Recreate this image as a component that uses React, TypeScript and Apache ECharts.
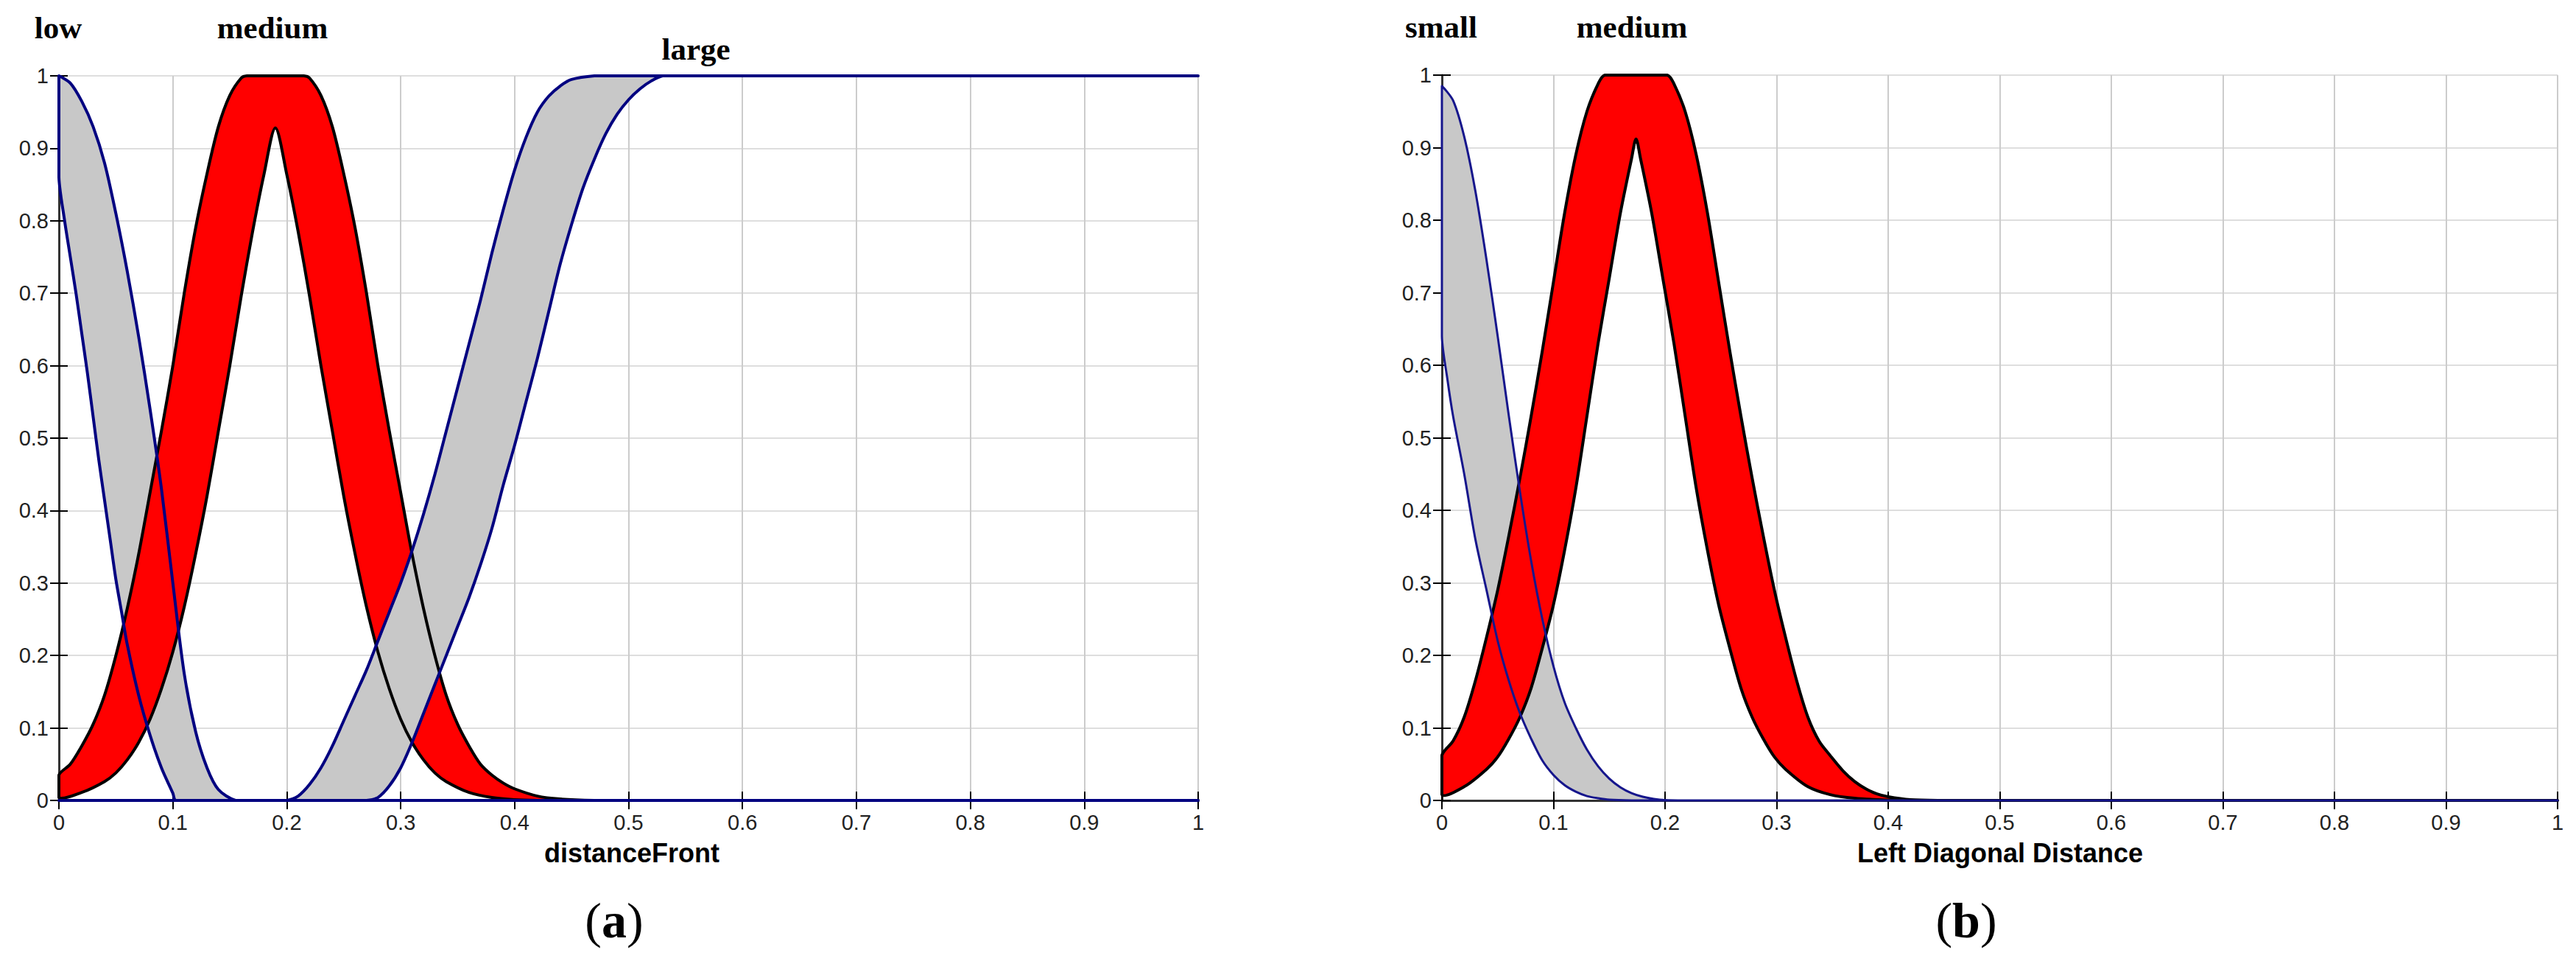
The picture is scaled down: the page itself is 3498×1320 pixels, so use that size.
import React, { useEffect, useRef } from 'react';
import * as echarts from 'echarts';

type Pt = [number, number];

// ---------- tick labels & texts ----------
const tickLabels = ['0', '0.1', '0.2', '0.3', '0.4', '0.5', '0.6', '0.7', '0.8', '0.9', '1'];
const setNamesA = ['low', 'medium', 'large'];
const setNamesB = ['small', 'medium'];
const axisTitles = ['distanceFront', 'Left Diagonal Distance'];
const panelTags = ['a', 'b'];

// ---------- panel (a): distanceFront ----------
const lowUpperA: Pt[] = [[0, 1], [0.01, 0.99], [0.02, 0.965], [0.03, 0.93], [0.04, 0.88], [0.05, 0.81], [0.06, 0.73], [0.07, 0.64], [0.08, 0.54], [0.09, 0.43], [0.1, 0.3], [0.11, 0.175], [0.12, 0.095], [0.13, 0.045], [0.14, 0.015], [0.155, 0], [0.17, 0], [1, 0]];
const lowLowerA: Pt[] = [[0, 0.86], [0.005, 0.8], [0.01, 0.75], [0.015, 0.7], [0.02, 0.645], [0.025, 0.59], [0.03, 0.53], [0.035, 0.47], [0.04, 0.415], [0.045, 0.36], [0.05, 0.305], [0.055, 0.26], [0.06, 0.215], [0.07, 0.145], [0.08, 0.09], [0.09, 0.045], [0.1, 0.01], [0.1025, 0], [0.12, 0], [1, 0]];
const medUpperA: Pt[] = [[0, 0.035], [0.01, 0.05], [0.02, 0.075], [0.03, 0.105], [0.04, 0.145], [0.05, 0.2], [0.06, 0.265], [0.07, 0.34], [0.08, 0.425], [0.09, 0.51], [0.1, 0.6], [0.11, 0.7], [0.12, 0.79], [0.13, 0.865], [0.14, 0.93], [0.15, 0.973], [0.16, 0.997], [0.165, 1], [0.19, 1], [0.215, 1], [0.22, 0.997], [0.23, 0.973], [0.24, 0.93], [0.25, 0.865], [0.26, 0.79], [0.27, 0.7], [0.28, 0.6], [0.29, 0.51], [0.3, 0.425], [0.31, 0.34], [0.32, 0.265], [0.33, 0.2], [0.34, 0.145], [0.35, 0.105], [0.36, 0.075], [0.37, 0.05], [0.38, 0.035], [0.39, 0.024], [0.4, 0.016], [0.42, 0.006], [0.44, 0.002], [0.47, 0], [0.5, 0], [1, 0]];
const medLowerA: Pt[] = [[0, 0.004], [0.02, 0.011], [0.04, 0.026], [0.05, 0.038], [0.06, 0.056], [0.07, 0.08], [0.08, 0.112], [0.09, 0.154], [0.1, 0.205], [0.11, 0.267], [0.12, 0.34], [0.13, 0.42], [0.14, 0.51], [0.15, 0.6], [0.16, 0.696], [0.17, 0.785], [0.18, 0.864], [0.19, 0.928], [0.2, 0.864], [0.21, 0.785], [0.22, 0.696], [0.23, 0.6], [0.24, 0.51], [0.25, 0.42], [0.26, 0.34], [0.27, 0.267], [0.28, 0.205], [0.29, 0.154], [0.3, 0.112], [0.31, 0.08], [0.32, 0.056], [0.33, 0.038], [0.34, 0.026], [0.36, 0.011], [0.38, 0.004], [0.4, 0.001], [0.42, 0], [0.45, 0], [1, 0]];
const largeUpperA: Pt[] = [[0, 0], [0.19, 0], [0.2, 0], [0.21, 0.006], [0.22, 0.022], [0.23, 0.045], [0.24, 0.075], [0.25, 0.11], [0.26, 0.145], [0.27, 0.18], [0.28, 0.22], [0.29, 0.26], [0.3, 0.3], [0.31, 0.345], [0.32, 0.395], [0.33, 0.45], [0.34, 0.51], [0.35, 0.57], [0.36, 0.63], [0.37, 0.69], [0.38, 0.755], [0.39, 0.815], [0.4, 0.87], [0.41, 0.915], [0.42, 0.95], [0.43, 0.972], [0.44, 0.986], [0.45, 0.995], [0.47, 1], [0.49, 1], [1, 1]];
const largeLowerA: Pt[] = [[0, 0], [0.26, 0], [0.27, 0], [0.28, 0.004], [0.29, 0.02], [0.3, 0.045], [0.31, 0.08], [0.32, 0.12], [0.33, 0.16], [0.34, 0.2], [0.35, 0.24], [0.36, 0.28], [0.37, 0.325], [0.38, 0.375], [0.39, 0.435], [0.4, 0.49], [0.41, 0.55], [0.42, 0.61], [0.43, 0.675], [0.44, 0.74], [0.45, 0.795], [0.46, 0.845], [0.47, 0.885], [0.48, 0.92], [0.49, 0.947], [0.5, 0.967], [0.51, 0.982], [0.52, 0.993], [0.53, 1], [0.55, 1], [1, 1]];

// ---------- panel (b): Left Diagonal Distance ----------
const smallUpperB: Pt[] = [[0, 0.985], [0.01, 0.965], [0.02, 0.915], [0.03, 0.84], [0.04, 0.745], [0.05, 0.64], [0.06, 0.53], [0.07, 0.425], [0.08, 0.33], [0.09, 0.25], [0.1, 0.185], [0.11, 0.135], [0.12, 0.1], [0.13, 0.07], [0.14, 0.047], [0.15, 0.03], [0.16, 0.018], [0.17, 0.01], [0.18, 0.005], [0.19, 0.002], [0.2, 0.0005], [0.22, 0], [0.24, 0], [1, 0]];
const smallLowerB: Pt[] = [[0, 0.64], [0.005, 0.58], [0.01, 0.53], [0.02, 0.45], [0.03, 0.36], [0.04, 0.29], [0.05, 0.22], [0.06, 0.165], [0.07, 0.12], [0.08, 0.085], [0.09, 0.055], [0.1, 0.035], [0.11, 0.021], [0.12, 0.012], [0.13, 0.006], [0.14, 0.003], [0.15, 0.001], [0.17, 0], [0.19, 0], [1, 0]];
const medUpperB: Pt[] = [[0, 0.062], [0.01, 0.082], [0.02, 0.115], [0.03, 0.165], [0.04, 0.225], [0.05, 0.29], [0.06, 0.365], [0.07, 0.445], [0.08, 0.53], [0.09, 0.62], [0.1, 0.715], [0.11, 0.81], [0.12, 0.89], [0.13, 0.95], [0.14, 0.988], [0.146, 1], [0.174, 1], [0.202, 1], [0.208, 0.988], [0.218, 0.95], [0.228, 0.89], [0.238, 0.81], [0.248, 0.715], [0.258, 0.62], [0.268, 0.53], [0.278, 0.445], [0.288, 0.365], [0.298, 0.29], [0.308, 0.225], [0.318, 0.165], [0.328, 0.115], [0.338, 0.082], [0.348, 0.062], [0.36, 0.04], [0.37, 0.026], [0.38, 0.016], [0.39, 0.009], [0.4, 0.005], [0.42, 0.001], [0.45, 0], [0.48, 0], [1, 0]];
const medLowerB: Pt[] = [[0, 0.008], [0.02, 0.019], [0.04, 0.043], [0.05, 0.06], [0.06, 0.085], [0.07, 0.115], [0.08, 0.155], [0.09, 0.21], [0.1, 0.27], [0.11, 0.345], [0.12, 0.43], [0.13, 0.53], [0.14, 0.63], [0.15, 0.72], [0.16, 0.81], [0.17, 0.885], [0.174, 0.912], [0.178, 0.885], [0.188, 0.81], [0.198, 0.72], [0.208, 0.63], [0.218, 0.53], [0.228, 0.43], [0.238, 0.345], [0.248, 0.27], [0.258, 0.21], [0.268, 0.155], [0.278, 0.115], [0.288, 0.085], [0.298, 0.06], [0.308, 0.043], [0.328, 0.019], [0.348, 0.008], [0.37, 0.003], [0.4, 0.0005], [0.42, 0], [0.45, 0], [1, 0]];

interface Band {
  upper: Pt[];
  lower: Pt[];
  fill: string;
  stroke: string;
  width: number;
}

const GRAY = '#c8c8c8';
const RED = '#ff0000';
const NAVY = '#000080';

function bandSeries(kind: 'fill' | 'edge', axisIdx: number, bands: Band[]): any {
  return {
    type: 'custom',
    xAxisIndex: axisIdx,
    yAxisIndex: axisIdx,
    coordinateSystem: 'cartesian2d',
    data: [[0, 0]],
    encode: { x: 0, y: 1 },
    clip: false,
    silent: true,
    z: kind === 'fill' ? 2 : 3,
    renderItem: (_params: any, api: any) => ({
      type: 'group',
      children: bands.map((b) => {
        const pts = b.upper.concat(b.lower.slice().reverse()).map((p) => api.coord(p));
        return {
          type: 'polygon',
          shape: { points: pts, smooth: 0.3, smoothConstraint: [pts[0], pts[0]] },
          style:
            kind === 'fill'
              ? { fill: b.fill, stroke: 'none' }
              : { fill: 'none', stroke: b.stroke, lineWidth: b.width, lineJoin: 'round' },
        };
      }),
    }),
  };
}

const labelFont = { fontFamily: '"Liberation Sans", Arial, sans-serif', fontSize: 29, color: '#222' };

function axesFor(gridIndex: number) {
  const fmt = (v: number) => tickLabels[Math.round(v * 10)];
  const tick = { show: true, inside: true, length: 12, lineStyle: { color: '#000', width: 2 } };
  const xs = [
    {
      gridIndex, type: 'value', min: 0, max: 1, interval: 0.1, position: 'bottom',
      axisLine: { show: true, lineStyle: { color: '#000', width: 2 } },
      axisTick: tick,
      axisLabel: { ...labelFont, margin: 15, formatter: fmt },
      splitLine: { show: true, lineStyle: { color: '#cccccc', width: 2 } },
    },
    {
      gridIndex, type: 'value', min: 0, max: 1, interval: 0.1, position: 'top',
      axisLine: { show: true, lineStyle: { color: '#333', width: 3 } },
      axisTick: tick,
      axisLabel: { show: false },
      splitLine: { show: false },
    },
  ];
  const ys = [
    {
      gridIndex, type: 'value', min: 0, max: 1, interval: 0.1, position: 'left',
      axisLine: { show: true, lineStyle: { color: '#000', width: 2 } },
      axisTick: tick,
      axisLabel: { ...labelFont, margin: 14, formatter: fmt },
      splitLine: { show: true, lineStyle: { color: '#dedede', width: 2 } },
    },
    {
      gridIndex, type: 'value', min: 0, max: 1, interval: 0.1, position: 'right',
      axisLine: { show: true, lineStyle: { color: '#333', width: 3 } },
      axisTick: tick,
      axisLabel: { show: false },
      splitLine: { show: false },
    },
  ];
  return { xs, ys };
}

function txt(text: string, x: number, y: number, font: string, rich?: any): any {
  return {
    type: 'text',
    x,
    y,
    silent: true,
    style: { text, font, fill: '#000', align: 'center', verticalAlign: 'middle', rich },
  };
}

export default function App() {
  const ref = useRef<HTMLDivElement>(null);

  useEffect(() => {
    if (!ref.current) return;
    const chart = echarts.init(ref.current, null, { renderer: 'svg' });

    const bandsA: Band[] = [
      { upper: lowUpperA, lower: lowLowerA, fill: GRAY, stroke: NAVY, width: 4 },
      { upper: medUpperA, lower: medLowerA, fill: RED, stroke: '#000', width: 4 },
      { upper: largeUpperA, lower: largeLowerA, fill: GRAY, stroke: NAVY, width: 4 },
    ];
    const edgesA: Band[] = [bandsA[1], bandsA[0], bandsA[2]];
    const bandsB: Band[] = [
      { upper: smallUpperB, lower: smallLowerB, fill: GRAY, stroke: '#16168c', width: 3 },
      { upper: medUpperB, lower: medLowerB, fill: RED, stroke: '#000', width: 4 },
    ];
    const edgesB: Band[] = [bandsB[1], bandsB[0]];

    const a = axesFor(0);
    const b = axesFor(1);

    const titleFont = 'bold 43px "Liberation Serif", "Times New Roman", serif';
    const axisFont = 'bold 36px "Liberation Sans", Arial, sans-serif';
    const tagRich = {
      p: { font: '68px "Liberation Serif", "Times New Roman", serif', fill: '#000' },
      b: { font: 'bold 68px "Liberation Serif", "Times New Roman", serif', fill: '#000' },
    };

    const option: any = {
      animation: false,
      backgroundColor: '#fff',
      grid: [
        { left: 80, top: 103, width: 1547, height: 984 },
        { left: 1958, top: 102, width: 1515, height: 985 },
      ],
      xAxis: [...a.xs, ...b.xs],
      yAxis: [...a.ys, ...b.ys],
      series: [
        bandSeries('fill', 0, bandsA),
        bandSeries('edge', 0, edgesA),
        bandSeries('fill', 2, bandsB),
        bandSeries('edge', 2, edgesB),
      ],
      graphic: [
        txt(setNamesA[0], 79, 37, titleFont),
        txt(setNamesA[1], 370, 37, titleFont),
        txt(setNamesA[2], 945, 66, titleFont),
        txt(setNamesB[0], 1957, 36, titleFont),
        txt(setNamesB[1], 2216, 36, titleFont),
        txt(axisTitles[0], 858, 1158, axisFont),
        txt(axisTitles[1], 2716, 1158, axisFont),
        txt(`{p|(}{b|${panelTags[0]}}{p|)}`, 834, 1250, '68px "Liberation Serif", serif', tagRich),
        txt(`{p|(}{b|${panelTags[1]}}{p|)}`, 2670, 1250, '68px "Liberation Serif", serif', tagRich),
      ],
    };

    chart.setOption(option);
    return () => chart.dispose();
  }, []);

  return (
    <div
      ref={ref}
      style={{ position: 'absolute', left: 0, top: 0, width: 3498, height: 1320, background: '#fff' }}
    />
  );
}
